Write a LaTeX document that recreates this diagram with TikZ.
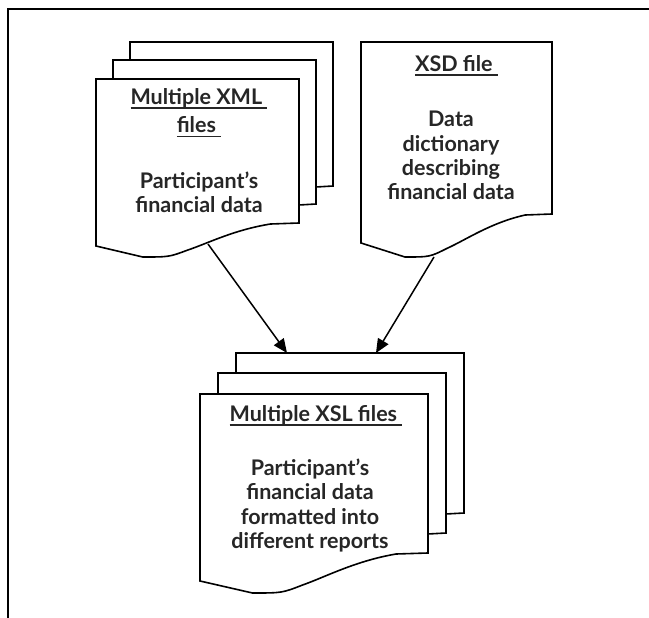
\documentclass[tikz,border=0pt]{standalone}
\usepackage{fontspec}
\setmainfont{Lato}
\usetikzlibrary{arrows.meta}
\newcommand\myul[1]{\setbox0\hbox{#1}\rlap{\rule[-4.5pt]{\wd0}{2pt}}\box0}
% L T R BL BR TY
\newcommand\docshape[6]{%
  \draw[page] (#1,#2) -- (#3,#2) -- (#3,#5) -- ({#3-0.14*(#3-#1)},{#5+1})
    .. controls ({#3-0.32*(#3-#1)},{#5+0.2*(#6-#5)}) and ({#3-0.45*(#3-#1)},{#5+0.6*(#6-#5)}) ..
    ({#3-0.55*(#3-#1)},{#5+0.8*(#6-#5)})
    .. controls ({#1+0.36*(#3-#1)},{#6}) .. ({#1+0.23*(#3-#1)},{#6})
    -- (#1,#4) -- cycle;}
\begin{document}
\begin{tikzpicture}[x=1pt,y=-1pt,
  page/.style={line width=1.6pt, line join=miter, fill=white},
  backpage/.style={line width=1.6pt, line join=miter},
  txt/.style={anchor=base, inner sep=0pt, font=\fontsize{21.5}{24}\selectfont\bfseries, text=black!85},
  flow/.style={line width=1.5pt, -{Triangle[length=14pt,width=12pt]}},
  frameline/.style={line width=1.8pt}]
\useasboundingbox (0,0) rectangle (649,618);
% frame
\draw[frameline] (8,618) -- (8,9) -- (649,9);

% XML stack
\draw[backpage] (130,60) -- (130,42) -- (333,42) -- (333,186) -- (316,187);
\draw[backpage] (113,79) -- (113,60) -- (316,60) -- (316,204) -- (299,205);
\docshape{96}{79}{299}{246}{223}{257}
\node[txt] (xmlt1) at (199,105) {\myul{Multiple XML\ }};
\node[txt] (xmlt2) at (199,133) {\myul{files\ }};
\node[txt] (xmlb1) at (199,188) {Participant’s};
\node[txt] (xmlb2) at (199,212) {financial data};

% XSD file
\docshape{361}{42}{552}{243}{214}{257}
\node[txt] (xsdt) at (456.5,72) {\myul{XSD file\ }};
\node[txt] (xsdb1) at (451,127) {Data};
\node[txt] (xsdb2) at (451,151) {dictionary};
\node[txt] (xsdb3) at (451,175.5) {describing};
\node[txt] (xsdb4) at (451,200) {financial data};

% XSL stack
\draw[backpage] (236,373) -- (236,353) -- (464,353) -- (464,513) -- (446,514);
\draw[backpage] (218,394) -- (218,373) -- (446,373) -- (446,533) -- (428,534);
\docshape{200}{394}{428}{581}{553}{593}
\node[txt] (xslt) at (316,421) {\myul{Multiple XSL files\ }};
\node[txt] (xslb1) at (310,475) {Participant’s};
\node[txt] (xslb2) at (310,499) {financial data};
\node[txt] (xslb3) at (310,524) {formatted into};
\node[txt] (xslb4) at (310,548) {different reports};

% connectors
\coordinate (xmlout) at (208,244);
\coordinate (xsdout) at (434,257);
\coordinate (xslinA) at (287,353);
\coordinate (xslinB) at (376,353);
\draw[flow] (xmlout) -- (xslinA);
\draw[flow] (xsdout) -- (xslinB);
\end{tikzpicture}
\end{document}
